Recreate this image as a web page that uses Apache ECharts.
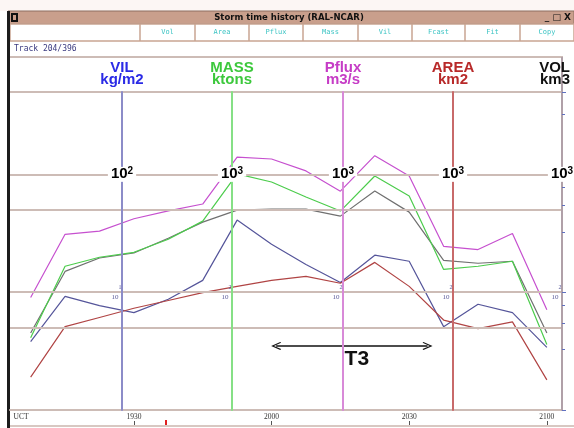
<!DOCTYPE html>
<html>
<head>
<meta charset="utf-8">
<script src="https://cdn.jsdelivr.net/npm/echarts@6/dist/echarts.min.js"></script>
<style>
html, body { margin: 0; padding: 0; background: #fff; }
#chart { width: 574px; height: 428px; }
</style>
</head>
<body>
<div id="chart"></div>
<script>
// scan times, minutes after 19:00 UCT
const times = [7.5, 15, 22.5, 30, 37.5, 45, 52.5, 60, 67.5, 75, 82.5, 90, 97.5, 105, 112.5, 120];
const vil   = [3.8, 9.2, 7.7, 6.7, 8.7, 12.6, 40.9, 25.5, 17.2, 12.1, 20.6, 18.3, 5.1, 7.9, 6.7, 3.4];
const mass  = [41, 166, 198, 218, 281, 401, 1008, 861, 642, 488, 969, 654, 156, 166, 183, 36];
const pflux = [90, 310, 330, 420, 490, 560, 1400, 1350, 1070, 720, 1440, 970, 245, 230, 315, 71];
const area  = [19, 51, 61, 73, 85, 99, 112, 126, 136, 119, 179, 112, 58, 49, 56, 18];
const vol   = [45, 150, 195, 215, 287, 393, 497, 507, 507, 442, 722, 478, 186, 176, 183, 45];

const timeTicks = [30, 60, 90, 120];
const currentTime = [37];
const vilGrid = [500, 100, 50, 10, 5];
const t3Span = [61, 94];
const t3Level = 3.5;
const buttons = ["Vol", "Area", "Pflux", "Mass", "Vil", "Fcast", "Fit", "Copy"];

const chart = echarts.init(document.getElementById("chart"));

const xMin = 3, xMax = 123.3;
const gridColor = "#cdbcb6";
const tan = "#c9a592";

function hhmm(t) {
    const h = 19 + Math.floor(t / 60);
    const m = Math.round(t % 60);
    return "" + h + (m < 10 ? "0" : "") + m;
}

function logAxis(name, nameColor, lineColor, min, max, offset, position) {
    const bigExp = Math.round(Math.log10(min)) + 2;
    return {
        type: "log", min: min, max: max, position: position, offset: offset, z: 5,
        name: name, nameLocation: "end", nameGap: 6,
        nameTextStyle: {
            color: nameColor, fontFamily: "Liberation Sans", fontWeight: "bold",
            fontSize: 15, lineHeight: 12, align: "center"
        },
        axisLine: { show: true, onZero: false, lineStyle: { color: lineColor, width: 2 } },
        axisTick: { show: false },
        splitLine: { show: false },
        axisLabel: {
            show: true, showMinLabel: false, showMaxLabel: false,
            margin: 0, align: "center", verticalAlign: "middle",
            formatter: function (v) {
                const e = Math.log10(v);
                if (Math.abs(e - bigExp) < 1e-4) return "{b|10}{s|" + bigExp + "}";
                if (Math.abs(e - (bigExp - 1)) < 1e-4) return "{t|10}{ts|" + (bigExp - 1) + "}{sp| }";
                return "";
            },
            rich: {
                b: { fontSize: 15, fontWeight: "bold", fontFamily: "Liberation Sans", color: "#000",
                     lineHeight: 16, backgroundColor: "#fff", padding: [0, 0, 0, 3] },
                s: { fontSize: 10, fontWeight: "bold", fontFamily: "Liberation Sans", color: "#000",
                     lineHeight: 10, verticalAlign: "top", backgroundColor: "#fff", padding: [0, 3, 0, 0] },
                t: { fontSize: 7, fontFamily: "Liberation Serif", color: "#5a5a9a", lineHeight: 8, verticalAlign: "bottom" },
                ts: { fontSize: 6, fontFamily: "Liberation Serif", color: "#5a5a9a", lineHeight: 7, verticalAlign: "top" },
                sp: { width: 11, lineHeight: 16 }
            }
        }
    };
}

const yAxes = [
    logAxis("VIL\nkg/m2", "#2b2be6", "#8c8cc8", 1, 500, -112, "left"),
    logAxis("MASS\nktons", "#3cc83c", "#86e086", 10, 5000, -222, "left"),
    logAxis("Pflux\nm3/s", "#c63cc6", "#d88ad8", 10, 5000, -333, "left"),
    logAxis("AREA\nkm2", "#b82a2a", "#c86a6a", 10, 5000, -443, "left"),
    logAxis("", "#111", "#b0a0a8", 10, 5000, 0, "right")
];
yAxes[4].axisTick = { show: true, length: 4, lineStyle: { color: "#6070c0" } };
yAxes[4].minorTick = { show: true, splitNumber: 4, length: 3, lineStyle: { color: "#6070c0" } };

const lineDefs = [
    { name: "VIL", data: vil, axis: 0, color: "#55559a" },
    { name: "AREA", data: area, axis: 3, color: "#b04444" },
    { name: "VOL", data: vol, axis: 4, color: "#707070" },
    { name: "MASS", data: mass, axis: 1, color: "#4ccc4c" },
    { name: "Pflux", data: pflux, axis: 2, color: "#c650cf" }
];

const series = lineDefs.map(function (d) {
    return {
        name: d.name, type: "line", yAxisIndex: d.axis, z: 3,
        symbol: "none", silent: true,
        lineStyle: { color: d.color, width: 1.2 },
        data: times.map(function (t, i) { return [t, d.data[i]]; })
    };
});

// horizontal grid lines
series.push({
    type: "line", yAxisIndex: 0, data: [], z: 1, silent: true,
    markLine: {
        silent: true, symbol: "none", animation: false,
        lineStyle: { color: gridColor, width: 2, type: "solid" },
        label: { show: false },
        data: vilGrid.map(function (v) { return { yAxis: v }; })
    }
});

// T3 arrow
const chevron = "path://M5,0 L10,8.5 L8.8,9.3 L5,2.6 L1.2,9.3 L0,8.5 Z";
series.push({
    type: "line", yAxisIndex: 0, data: [], z: 4, silent: true,
    markLine: {
        silent: true, animation: false,
        symbol: [chevron, chevron], symbolSize: [8, 10],
        lineStyle: { color: "#111", width: 1.5, type: "solid" },
        label: {
            show: true, position: "insideMiddleBottom", distance: 3, formatter: "T3",
            color: "#111", fontFamily: "Liberation Sans", fontWeight: "bold", fontSize: 21,
            padding: [0, 0, 0, 10]
        },
        data: [[{ coord: [t3Span[0], t3Level] }, { coord: [t3Span[1], t3Level] }]]
    }
});

const graphic = [
    { type: "rect", shape: { x: 0, y: 0, width: 574, height: 11 }, style: { fill: "#fcf6f4" } },
    { type: "rect", shape: { x: 8, y: 11, width: 566, height: 13 }, style: { fill: "#c99f8c", stroke: "#8e6e60", lineWidth: 1 } },
    { type: "rect", shape: { x: 11, y: 13, width: 7, height: 9 }, style: { fill: "#111" } },
    { type: "rect", shape: { x: 13, y: 15, width: 3, height: 5 }, style: { fill: "#c99f8c" } },
    { type: "text", x: 289, y: 17.5, style: { text: "Storm time history (RAL-NCAR)", font: "bold 8.5px 'DejaVu Sans'", fill: "#111", align: "center", verticalAlign: "middle" } },
    { type: "text", x: 571, y: 17.5, style: { text: "_ \u25a1 X", font: "bold 9px 'DejaVu Sans'", fill: "#111", align: "right", verticalAlign: "middle" } },
    { type: "rect", shape: { x: 10, y: 24, width: 564, height: 17 }, style: { fill: "#fff", stroke: tan, lineWidth: 1.5 } },
    { type: "text", x: 14, y: 48.5, style: { text: "Track 204/396", font: "8px 'DejaVu Sans Mono'", fill: "#3a3a80", verticalAlign: "middle" } },
    { type: "line", shape: { x1: 10, y1: 57, x2: 563, y2: 57 }, style: { stroke: gridColor, lineWidth: 2 } },
    { type: "line", shape: { x1: 562, y1: 57, x2: 562, y2: 92 }, style: { stroke: "#b0a0a8", lineWidth: 2 } },
    { type: "line", shape: { x1: 10, y1: 426, x2: 574, y2: 426 }, style: { stroke: "#d8c8c2", lineWidth: 2 } },
    { type: "rect", shape: { x: 7, y: 11, width: 3, height: 417 }, style: { fill: "#1c1c1c" } },
    { type: "text", x: 570, y: 62, style: { text: "VOL\nkm3", font: "bold 15px 'Liberation Sans'", fill: "#111", align: "right", verticalAlign: "top", lineHeight: 12 } }
];
const sepX = [140, 195, 249, 303, 358, 412, 465, 520, 574];
buttons.forEach(function (b, i) {
    graphic.push({ type: "line", shape: { x1: sepX[i], y1: 24, x2: sepX[i], y2: 41 }, style: { stroke: tan, lineWidth: 1.5 } });
    graphic.push({ type: "text", x: (sepX[i] + sepX[i + 1]) / 2, y: 32.5,
        style: { text: b, font: "7px 'DejaVu Sans Mono'", fill: "#3cc4c4", align: "center", verticalAlign: "middle" } });
});

chart.setOption({
    animation: false,
    backgroundColor: "#fff",
    grid: { left: 10, right: 12, top: 92, bottom: 18, containLabel: false, outerBoundsMode: "none" },
    xAxis: [
        {
            type: "value", min: xMin, max: xMax, position: "bottom",
            axisLine: { onZero: false, lineStyle: { color: gridColor, width: 2 } },
            axisTick: { show: false }, splitLine: { show: false },
            axisLabel: {
                customValues: [5.4].concat(timeTicks), margin: 3,
                fontSize: 7.5, fontFamily: "Liberation Serif", color: "#333",
                formatter: function (v) { return v < 10 ? "UCT" : hhmm(v); }
            }
        },
        {
            type: "value", min: xMin, max: xMax, position: "bottom", offset: 11,
            axisLine: { show: false }, axisLabel: { show: false }, splitLine: { show: false },
            axisTick: { show: true, customValues: timeTicks, length: 4, lineStyle: { color: "#555", width: 1 } }
        },
        {
            type: "value", min: xMin, max: xMax, position: "bottom", offset: 10,
            axisLine: { show: false }, axisLabel: { show: false }, splitLine: { show: false },
            axisTick: { show: true, customValues: currentTime, length: 5, lineStyle: { color: "#e02020", width: 2 } }
        }
    ],
    yAxis: yAxes,
    series: series,
    graphic: graphic
});
</script>
</body>
</html>
